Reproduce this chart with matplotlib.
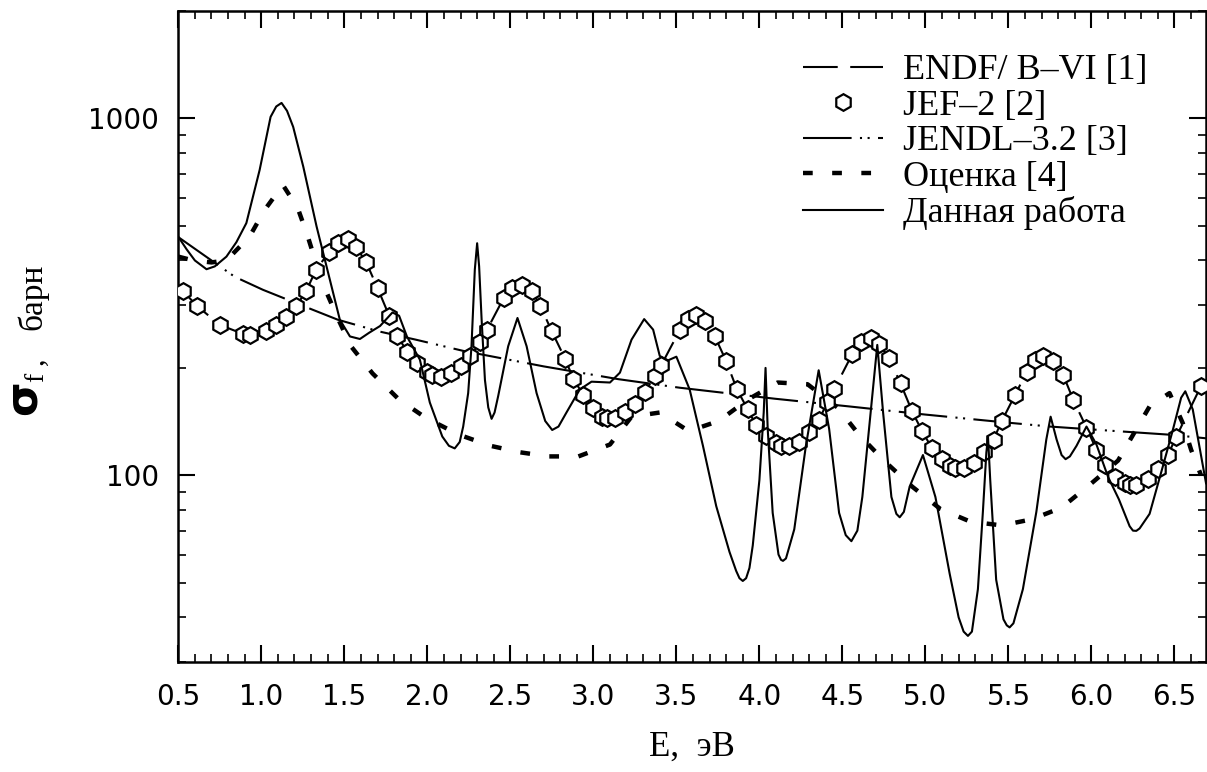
import numpy as np
import matplotlib.pyplot as plt
from matplotlib.ticker import FixedLocator, MultipleLocator, LogLocator, NullFormatter, FuncFormatter

# Fission cross section, energy in eV, sigma in barn

# JEF-2 points (ENDF/B-VI runs through the same values)
e_jef = [0.53, 0.61, 0.75, 0.89, 0.93, 1.03, 1.09, 1.15, 1.21, 1.27, 1.33, 1.41, 1.46,
         1.52, 1.57, 1.63, 1.70, 1.77, 1.82, 1.88, 1.94, 2.00, 2.03, 2.08, 2.14, 2.20,
         2.26, 2.32, 2.36, 2.46, 2.51, 2.57, 2.63, 2.68, 2.75, 2.83, 2.88, 2.94, 3.00,
         3.055, 3.08, 3.13, 3.19, 3.25, 3.31, 3.37, 3.41, 3.52, 3.57, 3.62, 3.67, 3.73,
         3.80, 3.865, 3.93, 3.98, 4.04, 4.10, 4.13, 4.18, 4.24, 4.30, 4.36, 4.41, 4.45,
         4.56, 4.61, 4.67, 4.72, 4.78, 4.85, 4.92, 4.98, 5.04, 5.10, 5.15, 5.18, 5.23,
         5.29, 5.35, 5.41, 5.46, 5.54, 5.61, 5.66, 5.71, 5.77, 5.83, 5.89, 5.97, 6.03,
         6.08, 6.14, 6.20, 6.23, 6.27, 6.34, 6.40, 6.46, 6.51, 6.66]
s_jef = [328, 299, 264, 249, 248, 253, 263, 277, 298, 328, 377, 423, 447,
         459, 436, 397, 335, 280, 245, 222, 207, 195, 191, 189, 193, 202,
         216, 237, 256, 314, 335, 342, 328, 299, 253, 212, 186, 168, 154,
         146, 145, 145, 150, 158, 171, 190, 204, 255, 274, 282, 270, 246,
         209, 174, 153, 138, 129, 123, 121, 121, 124, 132, 143, 161, 174,
         219, 236, 242, 234, 213, 181, 151, 133, 119, 111, 106, 105, 105,
         108, 116, 126, 142, 168, 195, 211, 216, 209, 191, 163, 136, 118,
         107, 99, 95, 94, 94, 97.5, 104, 114, 128, 178]
s_endf = list(s_jef)

# JENDL-3.2
e_jendl = [0.50, 0.84, 1.01, 1.31, 1.46, 1.71, 1.93, 2.22, 2.70, 3.15, 3.52, 4.09,
           4.54, 5.00, 5.46, 5.75, 6.05, 6.47, 6.69]
s_jendl = [465, 360, 331, 291, 273, 253, 240, 223, 202, 186, 176, 164,
           156, 148, 141, 137, 134, 130, 127]

# evaluation [4]
e_est = [0.50, 0.59, 0.70, 0.79, 0.93, 1.02, 1.13, 1.22, 1.28, 1.33, 1.39, 1.46, 1.54,
         1.67, 1.83, 1.99, 2.19, 2.38, 2.56, 2.73, 2.91, 3.10, 3.23, 3.40, 3.575,
         3.755, 3.93, 4.11, 4.29, 4.47, 4.60, 4.75, 4.92, 5.09, 5.27, 5.46, 5.64,
         5.82, 6.00, 6.16, 6.35, 6.47, 6.55, 6.60, 6.66]
s_est = [410, 400, 395, 400, 467, 554, 651, 560, 467, 393, 328, 276, 230,
         193, 163, 145, 130, 121, 116, 113, 113, 122, 146, 150, 133,
         142, 163, 182, 180, 155, 130, 110, 93, 80.5, 74.2, 72.4, 75.3,
         81.2, 95, 110, 156, 170, 140, 118, 100]

# this work
e_work = [0.50, 0.55, 0.60, 0.67, 0.72, 0.79, 0.85, 0.91, 0.99, 1.056, 1.09, 1.122,
          1.155, 1.192, 1.253, 1.333, 1.393, 1.473, 1.534, 1.594, 1.65, 1.715, 1.79,
          1.83, 1.877, 1.955, 2.015, 2.09, 2.13, 2.165, 2.195, 2.216, 2.246, 2.266,
          2.286, 2.30, 2.312, 2.327, 2.347, 2.367, 2.387, 2.405, 2.427, 2.487, 2.543,
          2.598, 2.658, 2.71, 2.752, 2.79, 2.838, 2.918, 2.989, 3.10, 3.16, 3.23,
          3.306, 3.36, 3.40, 3.45, 3.50, 3.58, 3.66, 3.74, 3.82, 3.86, 3.88, 3.90,
          3.92, 3.94, 3.96, 4.00, 4.026, 4.037, 4.05, 4.08, 4.115, 4.13, 4.142, 4.16,
          4.21, 4.28, 4.357, 4.42, 4.48, 4.52, 4.554, 4.59, 4.62, 4.67, 4.71, 4.745,
          4.795, 4.825, 4.845, 4.87, 4.905, 4.985, 5.06, 5.146, 5.20, 5.23, 5.256,
          5.28, 5.316, 5.346, 5.367, 5.377, 5.39, 5.426, 5.47, 5.49, 5.507, 5.53,
          5.587, 5.668, 5.728, 5.754, 5.79, 5.82, 5.844, 5.87, 5.91, 5.97, 6.03,
          6.10, 6.165, 6.23, 6.25, 6.27, 6.29, 6.35, 6.43, 6.49, 6.54, 6.565, 6.61,
          6.69]
s_work = [466, 430, 400, 378, 385, 410, 450, 509, 717, 1010, 1080, 1105,
          1050, 947, 732, 498, 385, 273, 245, 241, 251, 262, 286,
          280, 245, 211, 160, 128.5, 121, 119, 124, 137, 170, 230,
          377, 447, 385, 273, 185, 155, 144, 150, 167, 230, 276,
          230, 170, 142, 134, 137, 150, 174, 183, 182, 194, 240,
          274, 256, 216, 210, 215, 174, 121, 82, 61, 54, 51.5, 50.6,
          51.5, 55, 63.6, 97, 150, 200, 135, 78.5, 60, 58, 57.6, 58.5,
          70.6, 121, 197, 135, 78.5, 68, 65.4, 70, 87, 150, 232, 150,
          87, 78, 76.3, 79, 93, 114, 87, 53, 40, 36.5, 35.5,
          36.5, 48, 79, 116, 128, 97.5, 51, 39.5, 38, 37.5, 38.5,
          48, 79, 126, 146, 126, 114, 111, 113, 121, 137, 122,
          99, 85.7, 72, 70, 69.9, 71, 78, 106, 134, 165, 172, 153,
          95]

plt.rcParams['lines.scale_dashes'] = False
serif = 'Liberation Serif'

fig = plt.figure(figsize=(12.07, 7.72), dpi=100)
ax = fig.add_axes([0.1477, 0.1425, 0.8515, 0.8433])

ax.plot(e_jef, s_endf, color='k', lw=1.5, dashes=(25, 9), zorder=2,
        label='ENDF/ B–VI [1]')
ax.plot(e_jef, s_jef, ls='none', marker='h', ms=12, mfc='white', mec='k', mew=1.6,
        zorder=3, label='JEF–2 [2]')
ax.plot(e_jendl, s_jendl, color='k', lw=1.5, dashes=(35, 6, 1.5, 4, 1.5, 6), zorder=2,
        label='JENDL–3.2 [3]')
ax.plot(e_est, s_est, color='k', lw=3.2, dashes=(7, 14), dash_capstyle='butt', zorder=2,
        label='Оценка [4]')
ax.plot(e_work, s_work, color='k', lw=1.5, zorder=4, label='Данная работа')

ax.set_yscale('log')
ax.set_xlim(0.5, 6.69)
ax.set_ylim(30, 2000)

ax.xaxis.set_major_locator(MultipleLocator(0.5))
ax.xaxis.set_minor_locator(MultipleLocator(0.1))
ax.xaxis.set_major_formatter(FuncFormatter(lambda v, p: f'{v:.1f}'))
ax.yaxis.set_major_locator(FixedLocator([100, 1000]))
ax.yaxis.set_major_formatter(FuncFormatter(lambda v, p: f'{v:g}'))
ax.yaxis.set_minor_locator(LogLocator(base=10, subs=np.arange(2, 10)))
ax.yaxis.set_minor_formatter(NullFormatter())

ax.tick_params(which='both', direction='in', top=True, right=True, labelsize=20)
ax.tick_params(which='major', length=12, width=1.5)
ax.tick_params(which='minor', length=6, width=1.2)
ax.tick_params(axis='y', pad=14)
ax.tick_params(axis='x', pad=15)
for sp in ax.spines.values():
    sp.set_linewidth(1.8)

ax.set_xlabel('E,  эВ', family=serif, fontsize=25, labelpad=14)

# axis title: sigma_f , barn
fig.text(0.019, 0.485, 'σ', rotation=90, ha='center', va='center',
         fontsize=32, fontweight='bold', family='DejaVu Sans')
fig.text(0.030, 0.511, 'f', rotation=90, ha='center', va='center',
         fontsize=20, family=serif)
fig.text(0.029, 0.532, ',', rotation=90, ha='center', va='center',
         fontsize=22, family=serif)
fig.text(0.027, 0.615, 'барн', rotation=90, ha='center', va='center',
         fontsize=24, family=serif)

ax.legend(loc='upper left', bbox_to_anchor=(0.608, 0.934), frameon=False,
          prop={'family': serif, 'size': 26}, handlelength=2.2, handletextpad=0.56,
          labelspacing=0.065, borderpad=0, borderaxespad=0)

fig.savefig('out.png', dpi=100)
